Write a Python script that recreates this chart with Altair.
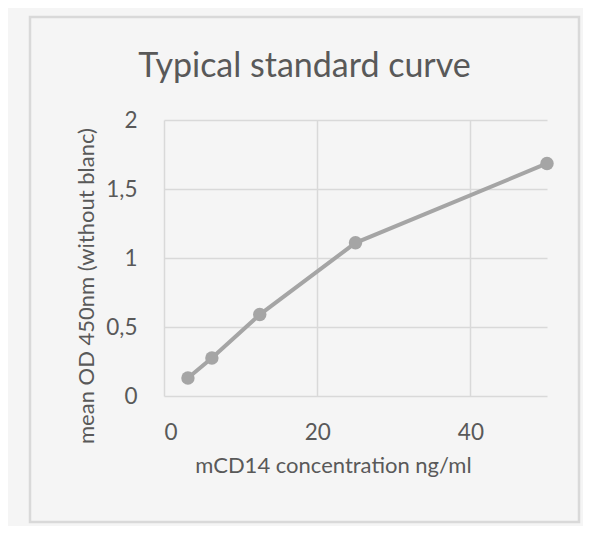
import altair as alt
import pandas as pd

# data
concentration = [3.125, 6.25, 12.5, 25, 50]
mean_od = [0.13, 0.275, 0.59, 1.11, 1.685]
x_ticks = [0, 20, 40]
y_ticks = [0, 0.5, 1, 1.5, 2]

df = pd.DataFrame({"conc": concentration, "od": mean_od})

FONT = "Lato"
TXT = "#595959"
GRID = "#d9d9d9"
SERIES = "#a5a5a5"

x_enc = alt.X(
    "conc:Q",
    scale=alt.Scale(domain=[0, 50], nice=False),
    axis=alt.Axis(
        values=x_ticks,
        title="mCD14 concentration ng/ml",
        domain=False,
        ticks=False,
        grid=True,
        gridColor=GRID,
        gridWidth=1.5,
        labelFont=FONT,
        labelFontSize=22.5,
        labelColor=TXT,
        labelBaseline="alphabetic",
        labelPadding=43.5,
        titleFont=FONT,
        titleFontSize=22,
        titleFontWeight="normal",
        titleColor=TXT,
        titleX=169,
        titleY=76.5,
        titleAlign="center",
        titleBaseline="alphabetic",
    ),
)
y_enc = alt.Y(
    "od:Q",
    scale=alt.Scale(domain=[0, 2], nice=False),
    axis=alt.Axis(
        values=y_ticks,
        title="mean OD 450nm (without blanc)",
        labelExpr="replace(toString(datum.value), '.', ',')",
        domain=False,
        ticks=False,
        grid=True,
        gridColor=GRID,
        gridWidth=1.5,
        labelFont=FONT,
        labelFontSize=22.5,
        labelColor=TXT,
        labelBaseline="middle",
        labelPadding=27,
        titleFont=FONT,
        titleFontSize=22,
        titleFontWeight="normal",
        titleColor=TXT,
        titleAngle=270,
        titleX=-71,
        titleY=165.5,
        titleAlign="center",
        titleBaseline="alphabetic",
    ),
)

frame = alt.Chart(alt.Data(values=[{"a": 1}])).mark_rect(
    fill="#f5f5f5", fillOpacity=0, stroke=GRID, strokeWidth=2.5
).encode(
    x=alt.value(-134), x2=alt.value(415), y=alt.value(-103), y2=alt.value(402)
)

line = alt.Chart(df).mark_line(color=SERIES, strokeWidth=4).encode(x=x_enc, y=y_enc)
points = alt.Chart(df).mark_circle(color=SERIES, opacity=1, size=180).encode(
    x="conc:Q", y="od:Q"
)

chart = (
    alt.layer(frame, line, points)
    .properties(
        width=383,
        height=276,
        title=alt.TitleParams(
            "Typical standard curve",
            font=FONT,
            fontSize=34,
            fontWeight="normal",
            color=TXT,
            anchor="middle",
            dx=-51,
            dy=95.5,
            baseline="alphabetic",
            offset=0,
        ),
        autosize=alt.AutoSizeParams(type="none"),
        padding={"left": 156, "top": 112, "right": 36, "bottom": 130},
        background="#f5f5f5",
    )
    .configure_view(stroke=None)
)

chart.save("out.html", embed_options={"renderer": "svg", "actions": False})
